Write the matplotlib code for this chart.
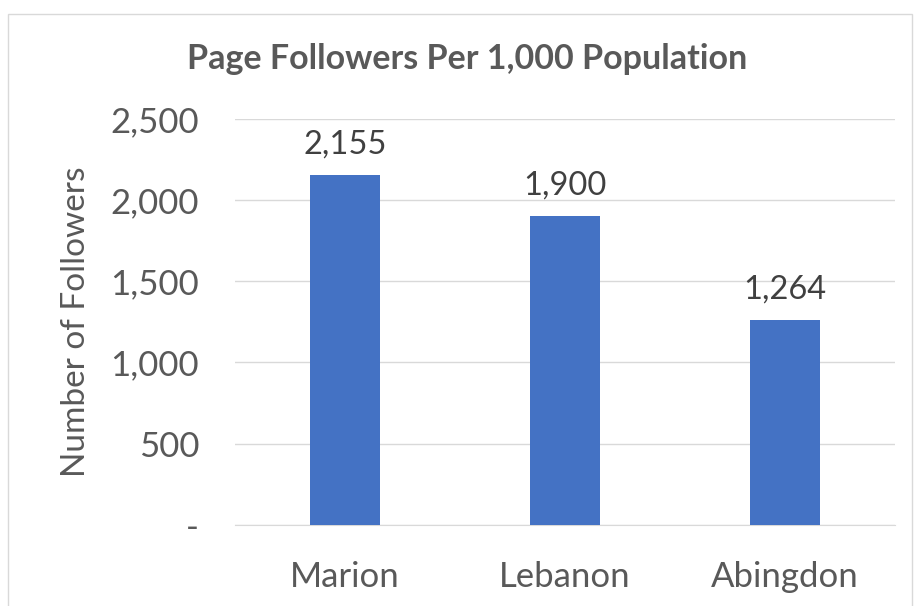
import matplotlib
matplotlib.use("Agg")
import matplotlib.pyplot as plt
from matplotlib.patches import Rectangle
from matplotlib.ticker import FuncFormatter

categories = ["Marion", "Lebanon", "Abingdon"]
values = [2155, 1900, 1264]
yticks = [0, 500, 1000, 1500, 2000, 2500]

plt.rcParams['font.family'] = ['Lato', 'DejaVu Sans']
grey = "#595959"

fig = plt.figure(figsize=(9.15, 6.06), dpi=100)
ax = fig.add_axes([0.257, 0.134, 0.721, 0.670])

x = range(len(categories))
bars = ax.bar(x, values, width=0.32, color="#4472C4", zorder=3)
for xi, v in zip(x, values):
    ax.text(xi, v + 95, f"{v:,}", ha="center", va="bottom", fontsize=23.5, color="#404040")

ax.set_xlim(-0.5, 2.5)
ax.set_ylim(0, 2500)
ax.set_yticks(yticks)
ax.yaxis.set_major_formatter(FuncFormatter(lambda v, p: "-" if v == 0 else f"{int(v):,}"))
ax.set_xticks(list(x))
ax.set_xticklabels(categories)
ax.tick_params(axis="both", length=0, labelsize=25, labelcolor=grey)
ax.tick_params(axis="x", pad=26)
ax.tick_params(axis="y", pad=26)
for lbl in ax.get_yticklabels():
    lbl.set_horizontalalignment("right")
ax.grid(axis="y", color="#d9d9d9", linewidth=1, zorder=0)
for s in ["top", "right", "left"]:
    ax.spines[s].set_visible(False)
ax.spines["bottom"].set_color("#d9d9d9")
ax.set_ylabel("Number of Followers", fontsize=24, color=grey, labelpad=14)

fig.text(0.51, 0.902, "Page Followers Per 1,000 Population", ha="center", va="center",
         fontsize=24.5, fontweight="bold", color=grey)

fig.patches.append(Rectangle((8/915, -0.01), 904/915, 1 - 14/606 + 0.01, transform=fig.transFigure,
                             fill=False, edgecolor="#d9d9d9", linewidth=1))

fig.savefig("out.png", dpi=100)
